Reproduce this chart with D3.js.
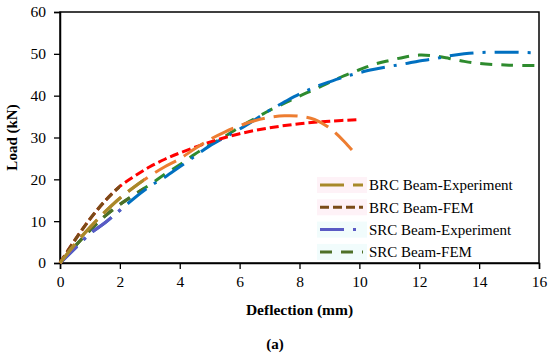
<!DOCTYPE html>
<html>
<head>
<meta charset="utf-8">
<script src="https://cdn.jsdelivr.net/npm/d3@7"></script>
<style>
  body { margin: 0; background: #fff; }
  text { font-family: "Liberation Serif", "DejaVu Serif", serif; fill: #000; }
</style>
</head>
<body>
<svg id="chart" width="550" height="354"></svg>
<script>
// Load-deflection curves
const xTicks = [0, 2, 4, 6, 8, 10, 12, 14, 16];
const yTicks = [0, 10, 20, 30, 40, 50, 60];

const brcExperiment = [
  [0, 0], [0.5, 4.5], [1, 8.5], [1.5, 12.2], [2, 15.5], [2.5, 18.3], [3, 20.8],
  [3.5, 23], [4, 24.9], [4.5, 27.3], [5, 29.5], [5.5, 31.3], [6, 32.8],
  [6.5, 34], [7, 34.8], [7.5, 35.2], [8, 35.1], [8.5, 34.3], [9, 32.3],
  [9.5, 29], [9.9, 25.8]
];
const brcFem = [
  [0, 0], [0.5, 5.5], [1, 10.5], [1.5, 14.8], [2, 18.3], [2.5, 20.8], [3, 23],
  [3.5, 24.8], [4, 26.3], [5, 28.9], [6, 30.9], [7, 32.3], [8, 33.3],
  [9, 33.9], [10, 34.3]
];
const srcExperiment = [
  [0, 0], [0.5, 3.5], [1, 7], [1.5, 9.6], [2, 12.6], [2.5, 15.6], [3, 18.3],
  [3.5, 20.5], [4, 23], [4.5, 25.5], [5, 28], [5.5, 30], [6, 32], [6.5, 34.2],
  [7, 36.5], [7.5, 38.5], [8, 40.4], [8.5, 42], [9, 43.3], [9.5, 44.5],
  [10, 45.5], [10.5, 46.3], [11, 47], [11.5, 47.6], [12, 48.3], [12.5, 48.8],
  [13, 49.5], [13.5, 50], [14, 50.3], [15, 50.4], [16, 50.2]
];
const srcFem = [
  [0, 0], [0.5, 4], [1, 7.8], [1.5, 11.2], [2, 14], [2.5, 16.4], [3, 18.7],
  [3.5, 21.2], [4, 23.5], [4.5, 26], [5, 28.2], [5.5, 30.2], [6, 32.5],
  [6.5, 34.5], [7, 36.5], [7.5, 38.2], [8, 39.9], [8.5, 41.5], [9, 43.2],
  [9.5, 44.8], [10, 46.2], [10.5, 47.5], [11, 48.4], [11.5, 49.2], [12, 49.7],
  [12.5, 49.5], [13, 48.9], [13.5, 48.2], [14, 47.7], [15, 47.3], [16, 47.2]
];

const seriesNames = ["BRC Beam-Experiment", "BRC Beam-FEM", "SRC Beam-Experiment", "SRC Beam-FEM"];

// styling per series (main colour, the darker tint seen near the origin / legend, dash)
const series = [
  { name: seriesNames[0], data: brcExperiment, color: "#ED7D31", dark: "#A8892A", dash: "24,9", darkUntil: 2.8 },
  { name: seriesNames[1], data: brcFem, color: "#FF0000", dark: "#7A4C18", dash: "9,4", darkUntil: 2.0 },
  { name: seriesNames[2], data: srcExperiment, color: "#0070C0", dark: "#5A5AC4", dash: "24,9,3,9", darkUntil: 2.2 },
  { name: seriesNames[3], data: srcFem, color: "#2E8B2E", dark: "#4E7028", dash: "12,9", darkUntil: 2.8 }
];

const margin = { top: 12, right: 11, bottom: 91, left: 60 };
const width = 550, height = 354;
const svg = d3.select('#chart');

const x = d3.scaleLinear().domain([0, 16]).range([margin.left, width - margin.right]);
const y = d3.scaleLinear().domain([0, 60]).range([height - margin.bottom, margin.top]);

// frame
svg.append('rect')
  .attr('x', x(0)).attr('y', y(60))
  .attr('width', x(16) - x(0)).attr('height', y(0) - y(60))
  .attr('fill', 'none').attr('stroke', '#000').attr('stroke-width', 1.5);

// axes
let xAxis = d3.axisBottom(x).tickValues(xTicks).tickSize(6).tickPadding(7);
let yAxis = d3.axisLeft(y).tickValues(yTicks).tickSize(6).tickPadding(8);

let gx = svg.append('g').attr('transform', `translate(0,${y(0)})`).call(xAxis);
let gy = svg.append('g').attr('transform', `translate(${x(0)},0)`).call(yAxis);
[gx, gy].forEach(g => {
  g.select('.domain').attr('stroke', '#000').attr('stroke-width', 1.5);
  g.selectAll('.tick line').attr('stroke', '#000').attr('stroke-width', 1.3);
  g.selectAll('.tick text')
    .style('font-family', '"Liberation Serif", serif')
    .style('font-size', '15.5px').attr('fill', '#000');
});

// clip regions for the darker tint near origin
let defs = svg.append('defs');
series.forEach((s, i) => {
  defs.append('clipPath').attr('id', 'dark' + i)
    .append('rect')
    .attr('x', x(0) - 5).attr('y', y(60))
    .attr('width', x(s.darkUntil) - x(0) + 5).attr('height', y(0) - y(60) + 5);
});

let line = d3.line()
  .x(d => x(d[0]))
  .y(d => y(d[1]))
  .curve(d3.curveCatmullRom.alpha(0.5));

// draw in reverse so BRC lies on top
series.slice().reverse().forEach(s => {
  let i = series.indexOf(s);
  svg.append('path')
    .datum(s.data)
    .attr('d', line)
    .attr('fill', 'none')
    .attr('stroke', s.color)
    .attr('stroke-width', 3)
    .attr('stroke-dasharray', s.dash);
  svg.append('path')
    .datum(s.data)
    .attr('d', line)
    .attr('fill', 'none')
    .attr('stroke', s.dark)
    .attr('stroke-width', 3.2)
    .attr('stroke-dasharray', s.dash)
    .attr('clip-path', `url(#dark${i})`);
});

// legend
let legend = svg.append('g').attr('transform', 'translate(320,185)');
let rows = legend.selectAll('g')
  .data(series)
  .enter()
  .append('g')
  .attr('transform', (d, i) => `translate(0,${i * 22.3})`);

rows.append('rect')
  .attr('x', -3).attr('y', -8)
  .attr('width', 50).attr('height', 16)
  .attr('fill', (d, i) => i < 2 ? '#fef2f7' : '#f1fcfc');

rows.append('line')
  .attr('x1', 0).attr('x2', 43)
  .attr('y1', 0).attr('y2', 0)
  .attr('stroke', d => d.dark)
  .attr('stroke-width', 3)
  .attr('stroke-dasharray', d => d.dash);

rows.append('text')
  .attr('x', 49).attr('y', 0)
  .attr('dy', '0.35em')
  .style('font-size', '15px')
  .text(d => d.name);

// axis titles
svg.append('text')
  .attr('transform', `translate(12,${(y(0) + y(60)) / 2}) rotate(-90)`)
  .attr('text-anchor', 'middle')
  .attr('dy', '0.35em')
  .style('font-size', '15px')
  .style('font-weight', 'bold')
  .text('Load (kN)');

svg.append('text')
  .attr('x', (x(0) + x(16)) / 2).attr('y', 310)
  .attr('text-anchor', 'middle')
  .attr('dy', '0.35em')
  .style('font-size', '15.5px')
  .style('font-weight', 'bold')
  .text('Deflection (mm)');

svg.append('text')
  .attr('x', 275).attr('y', 344)
  .attr('text-anchor', 'middle')
  .attr('dy', '0.35em')
  .style('font-size', '15px')
  .style('font-weight', 'bold')
  .text('(a)');
</script>
</body>
</html>
